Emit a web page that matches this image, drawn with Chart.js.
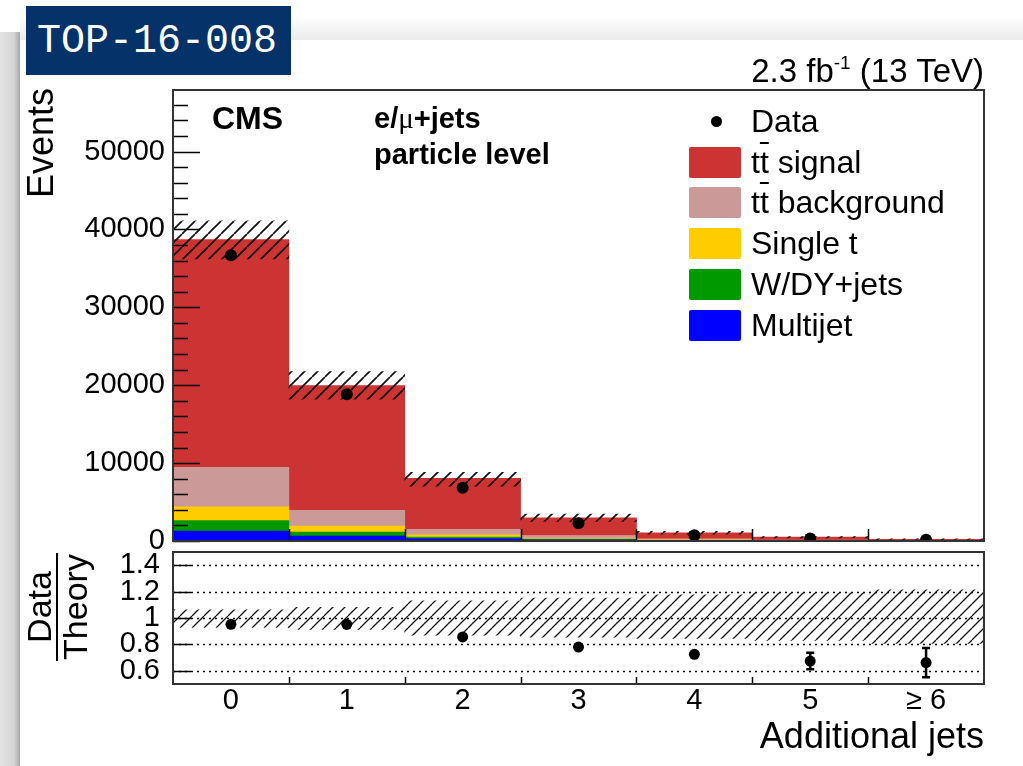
<!DOCTYPE html>
<html>
<head>
<meta charset="utf-8">
<script src="https://cdn.jsdelivr.net/npm/chart.js@4/dist/chart.umd.min.js"></script>
<style>
html, body { margin: 0; padding: 0; }
body {
    width: 1023px; height: 766px; position: relative; overflow: hidden;
    background: #fff; color: #000;
    font-family: 'Liberation Sans', Arial, sans-serif;
}
#side { position: absolute; left: 0; top: 32px; width: 20px; height: 734px;
    background: linear-gradient(to right, #e4e4e4, #d4d4d4 70%, #a8a8a8); }
#topshade { position: absolute; left: 20px; top: 16px; width: 1003px; height: 24px;
    background: linear-gradient(to bottom, #fff, #ebebeb); }
#badge { position: absolute; left: 26px; top: 6px; width: 265px; height: 69px;
    background: #053268; color: #fff; font-family: 'Liberation Mono', monospace;
    font-size: 40px; line-height: 72px; padding-left: 11px; box-sizing: border-box; }
canvas { position: absolute; left: 0; }
#upper { top: 0; }
#lower { top: 520px; }
.txt { position: absolute; white-space: nowrap; }
.rot { position: absolute; transform-origin: 0 0; transform: rotate(-90deg); white-space: nowrap; }
.tbar { text-decoration: overline; text-decoration-thickness: 2px; }
.box { position: absolute; width: 52px; height: 31px; border-radius: 2px; }
.dot { position: absolute; width: 11px; height: 11px; border-radius: 50%; background: #000; }
</style>
</head>
<body>
<div id="side"></div>
<div id="topshade"></div>
<div id="badge">TOP-16-008</div>
<canvas id="upper" width="1023" height="571"></canvas>
<canvas id="lower" width="1023" height="246"></canvas>

<div class="txt" style="right:39px; top:54px; font-size:33px; line-height:33px;">2.3 fb<sup style="font-size:19px; line-height:0; vertical-align:13px;">-1</sup> (13 TeV)</div>
<div class="txt" style="left:212px; top:102px; font-size:32px; line-height:32px; font-weight:bold;">CMS</div>
<div class="txt" style="left:374px; top:104px; font-size:29px; line-height:29px; font-weight:bold;">e/<span style="font-family:'Liberation Serif',serif; font-weight:normal;">μ</span>+jets</div>
<div class="txt" style="left:374px; top:140px; font-size:29px; line-height:29px; font-weight:bold;">particle level</div>
<div class="rot" style="left:23px; top:288px; width:200px; text-align:right; font-size:36px; line-height:36px;">Events</div>
<div class="rot" style="left:22px; top:661px; width:108px; text-align:center; font-size:34px; line-height:34px;">
  <div style="border-bottom:2px solid #000;">Data</div><div>Theory</div>
</div>
<div class="txt" style="right:39px; top:718px; font-size:36px; line-height:36px;">Additional jets</div>
<div id="legend"></div>

<script>
/* global Chart */

// Bins (number of additional jets)
const binLabels = ['0', '1', '2', '3', '4', '5', '\u2265 6'];

// Stacked prediction, events per bin
const multijet = [1260, 620, 320, 150, 60, 30, 20];
const wdyJets = [1370, 510, 190, 90, 40, 20, 10];
const singleTop = [1760, 770, 280, 120, 40, 15, 8];
const ttBackground = [5080, 2050, 720, 350, 130, 60, 30];
const ttSignal = [29230, 16010, 6545, 2270, 780, 365, 162];

// Measured events
const dataEvents = [36700, 18850, 6850, 2270, 740, 310, 150];

// Prediction uncertainty band (upper panel)
const uncLow = [36200, 18200, 7050, 2520, 870, 400, 185];
const uncHigh = [41100, 21750, 8800, 3440, 1230, 580, 280];

// Ratio panel
const ratio = [0.952, 0.952, 0.857, 0.78, 0.725, 0.674, 0.662];
const ratioErr = [0.006, 0.008, 0.012, 0.02, 0.025, 0.063, 0.11];
const ratioBandLow = [0.929, 0.914, 0.87, 0.855, 0.845, 0.83, 0.807];
const ratioBandHigh = [1.061, 1.08, 1.13, 1.15, 1.175, 1.19, 1.213];

// Axis ticks
const eventTicks = [0, 10000, 20000, 30000, 40000, 50000];
const ratioTicks = [0.6, 0.8, 1, 1.2, 1.4];

// Colours (ROOT palette)
const COLORS = {
    signal: '#cc3333',
    background: '#cc9999',
    singleTop: '#ffcc00',
    wdy: '#009900',
    multijet: '#0000ff'
};

const FONT = "'Liberation Sans', Arial, sans-serif";

/**
 * Builds a "/" hatch pattern
 */
function makeHatch(step, width, color) {
    const c = document.createElement('canvas');
    c.width = step;
    c.height = step;
    const g = c.getContext('2d');
    g.strokeStyle = color;
    g.lineWidth = width;
    g.beginPath();
    for (const k of [-step, 0, step]) {
        g.moveTo(k, step);
        g.lineTo(k + step, 0);
    }
    g.stroke();
    return g.createPattern(c, 'repeat');
}

// Bin edge pixel between category i and i+1
function binEdge(x, i) {
    return (x.getPixelForValue(i) + x.getPixelForValue(i + 1)) / 2;
}

const upperFrame = {
    id: 'upperFrame',
    afterDatasetsDraw(chart) {
        const { ctx, chartArea: a, scales: { x, y } } = chart;
        ctx.save();
        ctx.strokeStyle = '#000';
        ctx.lineWidth = 1.5;
        ctx.beginPath();
        for (let v = 0; v <= y.max; v += 2000) {
            const py = Math.round(y.getPixelForValue(v)) + 0.5;
            const len = v % 10000 === 0 ? 27 : 15;
            ctx.moveTo(a.left, py);
            ctx.lineTo(a.left + len, py);
        }
        for (let i = 0; i < binLabels.length - 1; i++) {
            const px = Math.round(binEdge(x, i)) + 0.5;
            ctx.moveTo(px, a.bottom);
            ctx.lineTo(px, a.bottom - 12);
        }
        ctx.stroke();
        ctx.lineWidth = 2;
        ctx.strokeStyle = '#333';
        ctx.strokeRect(a.left, a.top, a.right - a.left, a.bottom - a.top);
        ctx.restore();
    }
};

const lowerFrame = {
    id: 'lowerFrame',
    beforeDatasetsDraw(chart) {
        const { ctx, chartArea: a, scales: { y } } = chart;
        ctx.save();
        ctx.strokeStyle = '#000';
        ctx.lineWidth = 1.5;
        ctx.setLineDash([2, 4]);
        ctx.beginPath();
        ratioTicks.forEach(v => {
            const py = Math.round(y.getPixelForValue(v)) + 0.5;
            ctx.moveTo(a.left, py);
            ctx.lineTo(a.right, py);
        });
        ctx.stroke();
        ctx.restore();
    },
    afterDatasetsDraw(chart) {
        const { ctx, chartArea: a, scales: { x, y } } = chart;
        ctx.save();
        ctx.strokeStyle = '#000';
        // error bars
        ctx.lineWidth = 2.5;
        ratio.forEach((r, i) => {
            const px = x.getPixelForValue(i);
            const top = y.getPixelForValue(r + ratioErr[i]);
            const bot = y.getPixelForValue(r - ratioErr[i]);
            if (bot - top < 12) return;
            ctx.beginPath();
            ctx.moveTo(px, top);
            ctx.lineTo(px, bot);
            ctx.moveTo(px - 4, top);
            ctx.lineTo(px + 4, top);
            ctx.moveTo(px - 4, bot);
            ctx.lineTo(px + 4, bot);
            ctx.stroke();
        });
        // ticks
        ctx.lineWidth = 1.5;
        ctx.beginPath();
        ratioTicks.forEach(v => {
            const py = Math.round(y.getPixelForValue(v)) + 0.5;
            ctx.moveTo(a.left, py);
            ctx.lineTo(a.left + 18, py);
        });
        for (let i = 0; i < binLabels.length - 1; i++) {
            const px = Math.round(binEdge(x, i)) + 0.5;
            ctx.moveTo(px, a.bottom);
            ctx.lineTo(px, a.bottom - 7);
        }
        ctx.stroke();
        ctx.lineWidth = 2;
        ctx.strokeStyle = '#333';
        ctx.strokeRect(a.left, a.top, a.right - a.left, a.bottom - a.top);
        ctx.restore();
    }
};

function stackSet(label, data, color) {
    return {
        label: label,
        data: data,
        backgroundColor: color,
        borderWidth: 0,
        stack: 'mc',
        barPercentage: 1,
        categoryPercentage: 1
    };
}

const tickFont = { family: FONT, size: 29 };

new Chart(document.getElementById('upper'), {
    type: 'bar',
    data: {
        labels: binLabels,
        datasets: [
            {
                type: 'line',
                label: 'Data',
                data: dataEvents,
                showLine: false,
                pointRadius: 6,
                pointBackgroundColor: '#000',
                pointBorderWidth: 0,
                stack: 'pts'
            },
            {
                label: 'Uncertainty',
                data: uncLow.map((lo, i) => [lo, uncHigh[i]]),
                backgroundColor: makeHatch(13, 1.7, '#111'),
                borderWidth: 0,
                stack: 'unc',
                grouped: false,
                barPercentage: 1,
                categoryPercentage: 1
            },
            stackSet('Multijet', multijet, COLORS.multijet),
            stackSet('W/DY+jets', wdyJets, COLORS.wdy),
            stackSet('Single t', singleTop, COLORS.singleTop),
            stackSet('tt background', ttBackground, COLORS.background),
            stackSet('tt signal', ttSignal, COLORS.signal)
        ]
    },
    options: {
        responsive: false,
        animation: false,
        events: [],
        layout: { padding: { top: 90, right: 39, left: 0, bottom: 0 } },
        plugins: { legend: { display: false }, tooltip: { enabled: false } },
        scales: {
            x: {
                offset: true,
                grid: { display: false },
                border: { display: false },
                ticks: { display: false },
                afterFit: s => { s.height = 30; }
            },
            y: {
                stacked: true,
                min: 0,
                max: 57900,
                grid: { display: false, drawTicks: false },
                border: { display: false },
                afterBuildTicks: s => { s.ticks = eventTicks.map(v => ({ value: v })); },
                ticks: { padding: 8, color: '#000', font: tickFont, autoSkip: false, callback: v => String(v) },
                afterFit: s => { s.width = 173; }
            }
        }
    },
    plugins: [upperFrame]
});

new Chart(document.getElementById('lower'), {
    type: 'bar',
    data: {
        labels: binLabels,
        datasets: [
            {
                type: 'line',
                label: 'Data/Theory',
                data: ratio,
                showLine: false,
                pointRadius: 5.5,
                pointBackgroundColor: '#000',
                pointBorderWidth: 0
            },
            {
                label: 'Uncertainty',
                data: ratioBandLow.map((lo, i) => [lo, ratioBandHigh[i]]),
                backgroundColor: makeHatch(12, 1.3, '#111'),
                borderWidth: 0,
                barPercentage: 1,
                categoryPercentage: 1
            }
        ]
    },
    options: {
        responsive: false,
        animation: false,
        events: [],
        layout: { padding: { top: 32, right: 39, left: 0, bottom: 0 } },
        plugins: { legend: { display: false }, tooltip: { enabled: false } },
        scales: {
            x: {
                offset: true,
                grid: { display: false, drawTicks: false },
                border: { display: false },
                ticks: { padding: 0, color: '#000', font: tickFont, maxRotation: 0, autoSkip: false },
                afterFit: s => { s.height = 82; }
            },
            y: {
                min: 0.5,
                max: 1.5,
                grid: { display: false, drawTicks: false },
                border: { display: false },
                afterBuildTicks: s => { s.ticks = ratioTicks.map(v => ({ value: v })); },
                ticks: {
                    padding: 13,
                    color: '#000',
                    font: tickFont,
                    autoSkip: false,
                    callback: v => (v === 1 ? '1' : v.toFixed(1))
                },
                afterFit: s => { s.width = 173; }
            }
        }
    },
    plugins: [lowerFrame]
});

// Legend (HTML), in the order of the reference
const legendEntries = [
    { html: 'Data', color: null },
    { html: 't<span class="tbar">t</span> signal', color: COLORS.signal },
    { html: 't<span class="tbar">t</span> background', color: COLORS.background },
    { html: 'Single t', color: COLORS.singleTop },
    { html: 'W/DY+jets', color: COLORS.wdy },
    { html: 'Multijet', color: COLORS.multijet }
];

const legendEl = document.getElementById('legend');
legendEntries.forEach((entry, i) => {
    const cy = 121.5 + i * 40.7;
    if (entry.color) {
        const b = document.createElement('div');
        b.className = 'box';
        b.style.left = '689px';
        b.style.top = (cy - 15.5) + 'px';
        b.style.background = entry.color;
        legendEl.appendChild(b);
    } else {
        const d = document.createElement('div');
        d.className = 'dot';
        d.style.left = '710.5px';
        d.style.top = (cy - 5.5) + 'px';
        legendEl.appendChild(d);
    }
    const t = document.createElement('div');
    t.className = 'txt';
    t.style.left = '751px';
    t.style.top = (cy - 16.5) + 'px';
    t.style.fontSize = '32px';
    t.style.lineHeight = '32px';
    t.innerHTML = entry.html;
    legendEl.appendChild(t);
});
</script>
</body>
</html>
